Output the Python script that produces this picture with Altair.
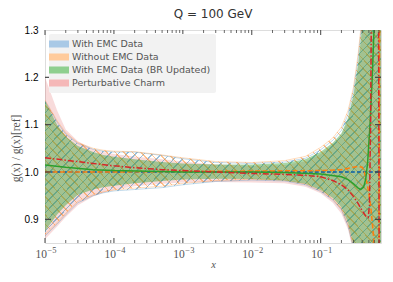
import altair as alt
import pandas as pd

# ---------------- data ----------------
X = [1e-5, 1.5e-5, 2e-5, 3e-5, 5e-5, 7e-5, 1e-4, 2e-4, 5e-4, 1e-3, 3e-3, 1e-2, 3e-2, 0.06,
     0.1, 0.15, 0.2, 0.25, 0.3, 0.35, 0.4, 0.45, 0.5, 0.55, 0.6, 0.65, 0.7, 0.75]

green_lo = [0.875, 0.910, 0.930, 0.952, 0.963, 0.968, 0.971, 0.976, 0.981, 0.984, 0.986, 0.985, 0.982, 0.975,
            0.962, 0.945, 0.925, 0.893, 0.845, 0.780, 0.700, 0.70, 0.70, 0.70, 0.70, 0.70, 0.70, 0.70]
green_hi = [1.150, 1.100, 1.075, 1.055, 1.042, 1.036, 1.032, 1.027, 1.021, 1.018, 1.016, 1.016, 1.019, 1.027,
            1.043, 1.062, 1.082, 1.115, 1.165, 1.230, 1.310, 1.40, 1.45, 1.45, 1.45, 1.45, 1.45, 1.45]

blue_lo = [0.865, 0.890, 0.910, 0.935, 0.950, 0.956, 0.960, 0.963, 0.967, 0.973, 0.980, 0.983, 0.981, 0.973,
           0.959, 0.941, 0.920, 0.886, 0.838, 0.770, 0.700, 0.70, 0.70, 0.70, 0.70, 0.70, 0.70, 0.70]
blue_hi = [1.150, 1.105, 1.080, 1.060, 1.048, 1.044, 1.042, 1.042, 1.035, 1.028, 1.020, 1.018, 1.021, 1.029,
           1.047, 1.067, 1.088, 1.122, 1.172, 1.240, 1.320, 1.41, 1.45, 1.45, 1.45, 1.45, 1.45, 1.45]

orange_lo = [0.868, 0.893, 0.913, 0.938, 0.952, 0.958, 0.962, 0.966, 0.970, 0.976, 0.982, 0.985, 0.983, 0.975,
             0.961, 0.943, 0.922, 0.889, 0.841, 0.775, 0.700, 0.70, 0.70, 0.70, 0.70, 0.70, 0.70, 0.70]
orange_hi = [1.152, 1.108, 1.083, 1.062, 1.050, 1.046, 1.044, 1.043, 1.036, 1.030, 1.022, 1.020, 1.024, 1.033,
             1.052, 1.072, 1.095, 1.130, 1.180, 1.250, 1.330, 1.42, 1.45, 1.45, 1.45, 1.45, 1.45, 1.45]

pink_lo = [0.858, 0.885, 0.905, 0.930, 0.948, 0.956, 0.962, 0.970, 0.975, 0.978, 0.979, 0.978, 0.976, 0.969,
           0.955, 0.935, 0.912, 0.878, 0.828, 0.760, 0.700, 0.70, 0.70, 0.70, 0.70, 0.70, 0.70, 0.70]
pink_hi = [1.200, 1.130, 1.090, 1.065, 1.048, 1.042, 1.038, 1.033, 1.027, 1.022, 1.016, 1.013, 1.015, 1.022,
           1.038, 1.058, 1.078, 1.110, 1.160, 1.225, 1.300, 1.39, 1.45, 1.45, 1.45, 1.45, 1.45, 1.45]

red_x = [1e-5, 2e-5, 5e-5, 1e-4, 2e-4, 5e-4, 1e-3, 3e-3, 1e-2, 3e-2, 0.06, 0.1, 0.15, 0.2, 0.25, 0.3,
         0.35, 0.4, 0.45, 0.49, 0.51, 0.53, 0.55, 0.65, 0.69, 0.71, 0.75]
red_y = [1.030, 1.025, 1.018, 1.013, 1.009, 1.005, 1.003, 1.000, 0.997, 0.995, 0.993, 0.990, 0.982, 0.973,
         0.962, 0.948, 0.933, 0.918, 0.907, 0.904, 0.930, 1.100, 1.450, 1.450, 1.400, 0.600, 0.600]

orange_x = [1e-5, 1e-4, 1e-3, 1e-2, 0.1, 0.2, 0.3, 0.35, 0.4, 0.43, 0.48, 0.53, 0.58, 0.62, 0.68, 0.70, 0.72, 0.75]
orange_y = [1.000, 1.000, 1.001, 1.002, 1.003, 1.005, 1.010, 1.012, 1.010, 1.000, 0.970, 0.930, 0.870, 0.800,
            0.750, 0.750, 1.500, 1.500]

green_x = [1e-5, 2e-5, 5e-5, 1e-4, 1e-3, 1e-2, 3e-2, 0.1, 0.2, 0.25, 0.3, 0.35, 0.38, 0.42, 0.45, 0.48,
           0.52, 0.56, 0.6, 0.65]
green_y = [1.015, 1.010, 1.005, 1.003, 1.000, 1.000, 0.999, 0.996, 0.990, 0.984, 0.975, 0.966, 0.963, 0.968,
           0.985, 1.020, 1.100, 1.200, 1.320, 1.450]

blue_x = [1e-5, 0.75]
blue_y = [1.0, 1.0]

legend_names = ["With EMC Data", "Without EMC Data", "With EMC Data (BR Updated)", "Perturbative Charm"]
legend_colors = ["#a9c9e6", "#ffcb9c", "#8fcf8f", "#f5b8b8"]

x_major = [1e-5, 1e-4, 1e-3, 1e-2, 1e-1]
x_major_exp = ["−5", "−4", "−3", "−2", "−1"]
x_minor = [m * 10.0 ** e for e in range(-5, 0) for m in range(2, 10) if m * 10.0 ** e <= 0.75]
y_major = [0.9, 1.0, 1.1, 1.2]

# ---------------- styling ----------------
W, H = 336, 213
XDOM = [1e-5, 0.75]
YDOM = [0.85, 1.3]
SERIF = "Liberation Serif"
LABEL_COL = "#555"

xs = alt.Scale(type="log", domain=XDOM, nice=False)
ys = alt.Scale(domain=YDOM, nice=False, zero=False)


def hatch(color, direction, n=78, frac=0.82):
    stops = []
    for k in range(n):
        a = k / n
        b = (k + frac) / n
        c = (k + 1) / n
        stops += [alt.GradientStop(color="rgba(255,255,255,0)", offset=a),
                  alt.GradientStop(color="rgba(255,255,255,0)", offset=b),
                  alt.GradientStop(color=color, offset=b),
                  alt.GradientStop(color=color, offset=c)]
    if direction == "/":
        return alt.LinearGradient(gradient="linear", stops=stops, x1=0, y1=0, x2=1, y2=1)
    return alt.LinearGradient(gradient="linear", stops=stops, x1=0, y1=1, x2=1, y2=0)


def band_df(lo, hi):
    return pd.DataFrame({"x": X, "lo": lo, "hi": hi})


def line_df(x, y):
    return pd.DataFrame({"x": x, "y": y})


xenc_axis = alt.X("x:Q", scale=xs, axis=alt.Axis(
    values=x_major, tickSize=0, ticks=False, labels=False, domain=False, grid=False,
    title="x", titleFontStyle="italic", titlePadding=16, titleFontSize=10.5,
    titleFontWeight="normal", titleFont=SERIF, titleColor=LABEL_COL))
yenc_axis = alt.Y("lo:Q", scale=ys, axis=alt.Axis(
    values=[0.9, 1.0, 1.1, 1.2, 1.3], format=".1f", tickSize=0, domain=False, grid=False,
    labelPadding=7, title="g(x)    /    g(x)[ref]", titlePadding=3, titleY=118,
    titleFontWeight="normal", titleFont=SERIF, titleFontSize=11.5, titleColor=LABEL_COL))

pink = alt.Chart(band_df(pink_lo, pink_hi)).mark_area(
    color="#d62728", opacity=0.17, clip=True).encode(x=xenc_axis, y=yenc_axis, y2="hi:Q")

layers = [pink]

for lo, hi, col, d in [(blue_lo, blue_hi, "#1f77b4", "/"), (orange_lo, orange_hi, "#ff7f0e", "\\")]:
    df = band_df(lo, hi)
    layers.append(alt.Chart(df).mark_area(fill=hatch(col, d), opacity=0.45, clip=True).encode(
        x=alt.X("x:Q", scale=xs), y=alt.Y("lo:Q", scale=ys), y2="hi:Q"))
    for f in ["lo", "hi"]:
        layers.append(alt.Chart(df).mark_line(color=col, strokeWidth=0.6, opacity=0.45, clip=True).encode(
            x=alt.X("x:Q", scale=xs), y=alt.Y(f + ":Q", scale=ys)))

layers.append(alt.Chart(band_df(green_lo, green_hi)).mark_area(
    color="#2ca02c", opacity=0.42, clip=True).encode(
    x=alt.X("x:Q", scale=xs), y=alt.Y("lo:Q", scale=ys), y2="hi:Q"))

# reference line
layers.append(alt.Chart(line_df(blue_x, blue_y)).mark_line(
    color="#222", strokeWidth=1, strokeDash=[3, 3], clip=True).encode(
    x=alt.X("x:Q", scale=xs), y=alt.Y("y:Q", scale=ys)))

for (lx, ly, col, dash) in [(blue_x, blue_y, "#1f77b4", [4, 2]),
                            (orange_x, orange_y, "#ff7f0e", [5, 2.5]),
                            (green_x, green_y, "#2ca02c", None),
                            (red_x, red_y, "#d62728", [6, 2, 1.5, 2])]:
    kw = dict(color=col, strokeWidth=1.5, clip=True)
    if dash:
        kw["strokeDash"] = dash
    layers.append(alt.Chart(line_df(lx, ly)).mark_line(**kw).encode(
        x=alt.X("x:Q", scale=xs), y=alt.Y("y:Q", scale=ys)))

# ticks (inward)
tick_col = "#444"
layers.append(alt.Chart(pd.DataFrame({"x": x_major})).mark_rule(color=tick_col, strokeWidth=1).encode(
    x=alt.X("x:Q", scale=xs), y=alt.value(H), y2=alt.value(H - 5)))
layers.append(alt.Chart(pd.DataFrame({"x": x_major})).mark_rule(color=tick_col, strokeWidth=1).encode(
    x=alt.X("x:Q", scale=xs), y=alt.value(0), y2=alt.value(5)))
layers.append(alt.Chart(pd.DataFrame({"x": x_minor})).mark_rule(color=tick_col, strokeWidth=0.8).encode(
    x=alt.X("x:Q", scale=xs), y=alt.value(H), y2=alt.value(H - 3)))
layers.append(alt.Chart(pd.DataFrame({"x": x_minor})).mark_rule(color=tick_col, strokeWidth=0.8).encode(
    x=alt.X("x:Q", scale=xs), y=alt.value(0), y2=alt.value(3)))
layers.append(alt.Chart(pd.DataFrame({"y": y_major})).mark_rule(color=tick_col, strokeWidth=1.2).encode(
    y=alt.Y("y:Q", scale=ys), x=alt.value(0), x2=alt.value(6)))
layers.append(alt.Chart(pd.DataFrame({"y": y_major})).mark_rule(color=tick_col, strokeWidth=1.2).encode(
    y=alt.Y("y:Q", scale=ys), x=alt.value(W), x2=alt.value(W - 6)))

# x tick labels: 10 with superscript exponent
lab_df = pd.DataFrame({"x": x_major, "e": x_major_exp})
layers.append(alt.Chart(lab_df).mark_text(
    text="10", align="right", baseline="alphabetic", dx=2, font=SERIF, fontSize=11.5, color=LABEL_COL).encode(
    x=alt.X("x:Q", scale=xs), y=alt.value(H + 15)))
layers.append(alt.Chart(lab_df).mark_text(
    align="left", baseline="alphabetic", dx=2.5, font=SERIF, fontSize=8.5, color=LABEL_COL).encode(
    x=alt.X("x:Q", scale=xs), y=alt.value(H + 10), text="e:N"))

# legend carrier (zero-size rects)
layers.append(alt.Chart(pd.DataFrame({"name": legend_names})).mark_rect().encode(
    x=alt.value(0), x2=alt.value(0), y=alt.value(0), y2=alt.value(0),
    color=alt.Color("name:N", scale=alt.Scale(domain=legend_names, range=legend_colors),
                    legend=alt.Legend(title=None, orient="top-left", offset=4,
                                      symbolType="M-2,-0.7H2V0.7H-2Z", symbolSize=100,
                                      symbolStrokeWidth=0, fillColor="#f2f2f2",
                                      padding=5, cornerRadius=2, rowPadding=3,
                                      labelFontSize=9.5, labelColor="#555", labelFont="DejaVu Sans",
                                      labelOffset=8, labelLimit=200))))

chart = alt.layer(*layers).properties(
    width=W, height=H,
    title=alt.TitleParams("Q = 100 GeV", fontSize=12, font="DejaVu Sans", fontWeight="normal",
                          color="#333", offset=4),
    padding={"left": 37, "top": 22, "right": 4, "bottom": 31},
    autosize=alt.AutoSizeParams(type="none"),
).configure_view(stroke="#555", strokeWidth=1).configure_axis(
    labelFont=SERIF, labelFontSize=11.5, labelColor=LABEL_COL,
    titleFont=SERIF, titleFontSize=10.5, titleColor=LABEL_COL, titleFontWeight="normal",
).configure(background="white")

chart.save("out.html", embed_options={"renderer": "svg", "actions": False})
